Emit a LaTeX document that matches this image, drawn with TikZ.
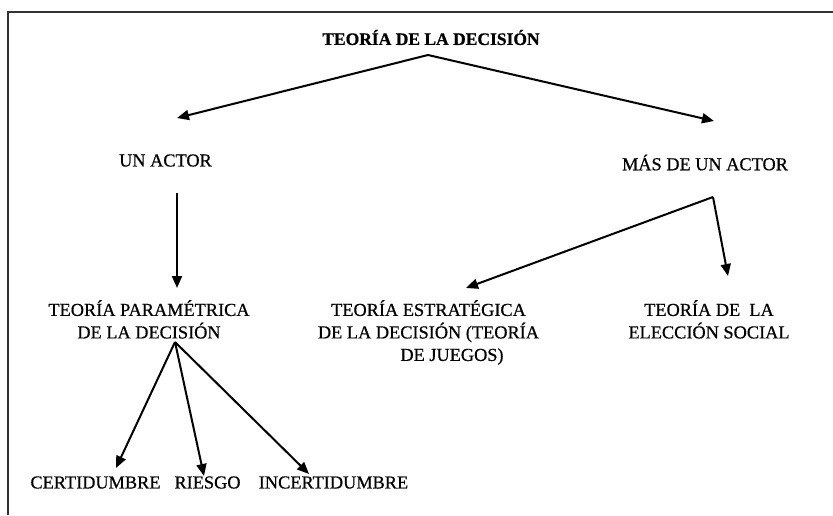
\documentclass[tikz,border=0pt]{standalone}
\usepackage{fontspec}
\setmainfont{Liberation Serif}
\newfontfamily\scanfont[FakeBold=0.6]{Liberation Serif}
\newfontfamily\scanbold[FakeBold=0.8]{Liberation Serif Bold}
\usetikzlibrary{arrows.meta}
\begin{document}
\begin{tikzpicture}[x=1pt,y=-1pt,
  lbl/.style={inner sep=0pt,font=\scanfont\fontsize{18.3}{22.5}\selectfont,align=center,anchor=center},
  ttl/.style={inner sep=0pt,font=\scanbold\fontsize{17.5}{22}\selectfont,anchor=center},
  arr/.style={line width=2pt,-{Triangle[length=12pt,width=10pt]}},
  frame/.style={line width=1.8pt,draw=black!80}]
\useasboundingbox (0,0) rectangle (833,515);
% frame
\draw[frame] (8,515) -- (8,12) -- (833,12);
% nodes
\node[ttl] (title) at (431,37.5) {TEORÍA DE LA DECISIÓN};
\node[lbl] (uno) at (165.5,160.5) {UN ACTOR};
\node[lbl] (mas) at (705,162.5) {MÁS DE UN ACTOR};
\node[lbl,anchor=north] (param) at (149,300) {TEORÍA PARAMÉTRICA\\DE LA DECISIÓN};
\node[lbl,anchor=north] (estr) at (428.5,300) {TEORÍA ESTRATÉGICA\\DE LA DECISIÓN (TEORÍA\\\hspace*{47pt}DE JUEGOS)};
\node[lbl,anchor=north] (social) at (709,300) {TEORÍA DE\ \ LA\\ELECCIÓN SOCIAL};
\node[lbl] (cert) at (95.5,482.5) {CERTIDUMBRE};
\node[lbl] (ries) at (207.5,482.5) {RIESGO};
\node[lbl] (inc) at (333.5,482.5) {INCERTIDUMBRE};
% connector points
\coordinate (apexT) at (428,55);
\coordinate (tipU) at (177,118);
\coordinate (tipM) at (714,121);
\coordinate (startU) at (177,193);
\coordinate (tipP) at (177,288);
\coordinate (apexM) at (713,197);
\coordinate (tipE) at (466,288);
\coordinate (tipS) at (728,276);
\coordinate (apexP) at (175,342);
\coordinate (tipC) at (116,468);
\coordinate (tipR) at (204,476);
\coordinate (tipI) at (309,474);
% connectors
\draw[arr] (apexT) -- (tipU);
\draw[arr] (apexT) -- (tipM);
\draw[arr] (startU) -- (tipP);
\draw[arr] (apexM) -- (tipE);
\draw[arr] (apexM) -- (tipS);
\draw[arr] (apexP) -- (tipC);
\draw[arr] (apexP) -- (tipR);
\draw[arr] (apexP) -- (tipI);
\end{tikzpicture}
\end{document}
